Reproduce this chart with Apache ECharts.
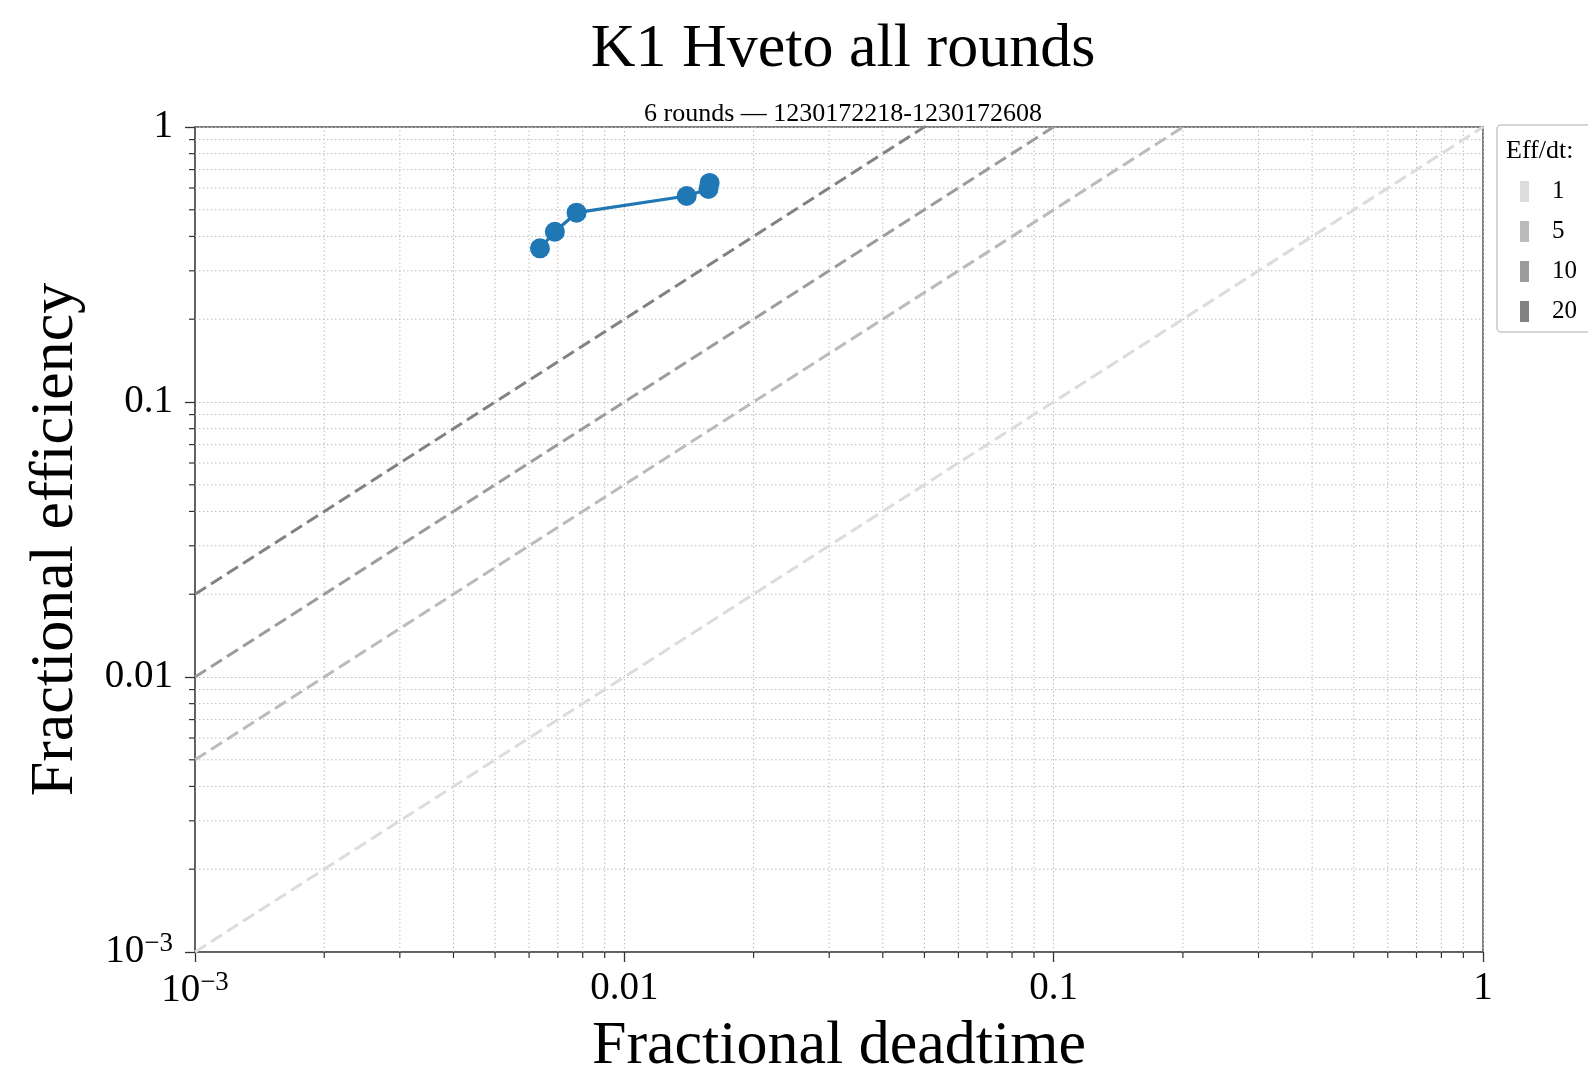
<!DOCTYPE html>
<html>
<head>
<meta charset="utf-8">
<script src="https://cdn.jsdelivr.net/npm/echarts@6/dist/echarts.min.js"></script>
<style>
html, body { margin: 0; padding: 0; background: #fff; }
#chart { width: 1588px; height: 1069px; }
</style>
</head>
<body>
<div id="chart"></div>
<script>
// ---- data ----
const titleText = 'K1 Hveto all rounds';
const subtitleText = '6 rounds — 1230172218-1230172608';
const xAxisTitle = 'Fractional deadtime';
const yAxisTitle = 'Fractional efficiency';
const legendTitle = 'Eff/dt:';

// cumulative results per round
const deadtime   = [0.00636, 0.00689, 0.00774, 0.01397, 0.0157, 0.0158];
const efficiency = [0.362,   0.416,   0.488,   0.561,   0.595,  0.626];

// reference lines: efficiency = ratio * deadtime
const effDtRatios = [1, 5, 10, 20];

const axisRange = [0.001, 1];
const majorTickLabels = { '-3': '{b|10}{s|−3}', '-2': '0.01', '-1': '0.1', '0': '1' };
const minorTicks = [0.002, 0.003, 0.004, 0.005, 0.006, 0.007, 0.008, 0.009,
                    0.02, 0.03, 0.04, 0.05, 0.06, 0.07, 0.08, 0.09,
                    0.2, 0.3, 0.4, 0.5, 0.6, 0.7, 0.8, 0.9];

// ---- styling ----
const FONT = 'Liberation Serif';
const ratioColors = ['#dcdcdc', '#bbbbbb', '#9c9c9c', '#828282'];
const gridColor = '#bdbdbd';
const tickColor = '#333';

function fmt(v) {
  const e = Math.round(Math.log10(v));
  return majorTickLabels[String(e)] || '';
}
const richLabel = {
  b: { fontFamily: FONT, fontSize: 39, lineHeight: 44, color: '#000' },
  s: { fontFamily: FONT, fontSize: 27, lineHeight: 27, verticalAlign: 'top', color: '#000' }
};

function minorX(params, api) {
  const v = api.value(0);
  const b = api.coord([v, axisRange[0]]);
  const t = api.coord([v, axisRange[1]]);
  return { type: 'group', children: [
    { type: 'line', shape: { x1: b[0], y1: b[1], x2: t[0], y2: t[1] },
      style: { stroke: gridColor, lineWidth: 1, lineDash: [1.5, 2.5] } },
    { type: 'line', shape: { x1: b[0], y1: b[1], x2: b[0], y2: b[1] + 6 },
      style: { stroke: tickColor, lineWidth: 1.2 } }
  ]};
}
function minorY(params, api) {
  const v = api.value(1);
  const l = api.coord([axisRange[0], v]);
  const r = api.coord([axisRange[1], v]);
  return { type: 'group', children: [
    { type: 'line', shape: { x1: l[0], y1: l[1], x2: r[0], y2: r[1] },
      style: { stroke: gridColor, lineWidth: 1, lineDash: [1.5, 2.5] } },
    { type: 'line', shape: { x1: l[0] - 6, y1: l[1], x2: l[0], y2: l[1] },
      style: { stroke: tickColor, lineWidth: 1.2 } }
  ]};
}

const ratioSeries = effDtRatios.map((k, i) => ({
  name: String(k),
  type: 'line',
  data: [[axisRange[0], k * axisRange[0]], [axisRange[1], k * axisRange[1]]],
  symbol: 'none',
  color: ratioColors[i],
  lineStyle: { color: ratioColors[i], width: 3, type: [13, 6] },
  clip: true,
  silent: true,
  z: 2
}));

const axisCommon = {
  type: 'log',
  logBase: 10,
  min: axisRange[0],
  max: axisRange[1],
  axisLine: { show: true, lineStyle: { color: '#555', width: 1.5 } },
  axisTick: { show: true, inside: false, length: 10, lineStyle: { color: tickColor, width: 1.3 } },
  splitLine: { show: true, lineStyle: { color: gridColor, width: 1, type: [1.5, 2.5] } },
  minorTick: { show: false },
  minorSplitLine: { show: false },
  nameLocation: 'middle',
  nameTextStyle: { fontFamily: FONT, fontSize: 62, color: '#000' }
};

const option = {
  backgroundColor: '#fff',
  animation: false,
  title: [
    { text: titleText, left: 838, top: 14, textAlign: 'center',
      textStyle: { fontFamily: FONT, fontSize: 62, fontWeight: 'normal', color: '#000' } },
    { text: subtitleText, left: 838, top: 96, textAlign: 'center',
      textStyle: { fontFamily: FONT, fontSize: 26, fontWeight: 'normal', color: '#000' } }
  ],
  grid: { left: 195, right: 105, top: 127, bottom: 117,
          containLabel: false, outerBoundsMode: 'none',
          show: true, borderColor: '#555', borderWidth: 1.5, backgroundColor: 'transparent' },
  xAxis: Object.assign({}, axisCommon, {
    name: xAxisTitle, nameGap: 64,
    axisLabel: { fontFamily: FONT, fontSize: 39, color: '#000', margin: 17,
                 showMinLabel: true, showMaxLabel: true, formatter: fmt, rich: richLabel }
  }),
  yAxis: Object.assign({}, axisCommon, {
    name: yAxisTitle, nameGap: 108, nameRotate: 90,
    axisLabel: { fontFamily: FONT, fontSize: 39, color: '#000', margin: 22,
                 showMinLabel: true, showMaxLabel: true, formatter: fmt, rich: richLabel }
  }),
  legend: {
    data: effDtRatios.map(String),
    orient: 'vertical',
    left: 1520, top: 179,
    padding: 0,
    itemWidth: 9, itemHeight: 21, itemGap: 15,
    icon: 'rect',
    selectedMode: false,
    z: 10,
    formatter: n => '{t|' + n + '}',
    textStyle: { fontFamily: FONT, fontSize: 25, color: '#000',
      rich: { t: { fontFamily: FONT, fontSize: 25, lineHeight: 21, color: '#000', padding: [0, 0, 0, 18] } } }
  },
  graphic: [
    { type: 'rect', z: 5, shape: { x: 1497, y: 125, width: 130, height: 207, r: 4 },
      style: { fill: '#fff', stroke: '#c8c8c8', lineWidth: 1.5 } },
    { type: 'text', z: 11, x: 1506, y: 151,
      style: { text: legendTitle, fontFamily: FONT, fontSize: 26, fill: '#000', verticalAlign: 'middle' } }
  ],
  series: [
    { name: 'minorX', type: 'custom', renderItem: minorX, silent: true, z: 1, clip: false,
      data: minorTicks.map(v => [v, axisRange[0]]) },
    { name: 'minorY', type: 'custom', renderItem: minorY, silent: true, z: 1, clip: false,
      data: minorTicks.map(v => [axisRange[0], v]) },
    ...ratioSeries,
    { name: 'rounds', type: 'line',
      data: deadtime.map((d, i) => [d, efficiency[i]]),
      symbol: 'circle', symbolSize: 20,
      color: '#1f77b4',
      itemStyle: { color: '#1f77b4' },
      lineStyle: { color: '#1f77b4', width: 3.2 },
      z: 3 }
  ]
};

const chart = echarts.init(document.getElementById('chart'), null, { renderer: 'canvas' });
chart.setOption(option);
</script>
</body>
</html>
